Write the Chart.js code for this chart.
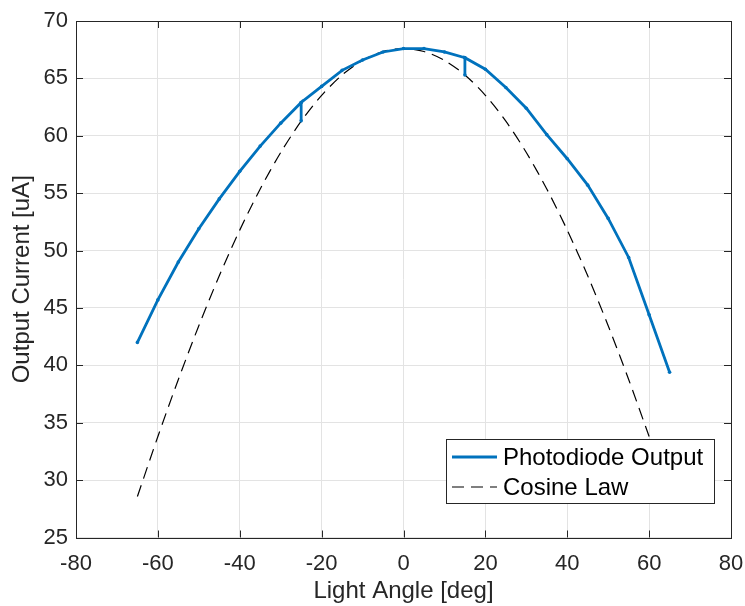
<!DOCTYPE html>
<html>
<head>
<meta charset="utf-8">
<script src="https://cdn.jsdelivr.net/npm/chart.js@4/dist/chart.umd.min.js"></script>
<style>
  html, body { margin: 0; padding: 0; background: #fff; }
  #wrap { width: 745px; height: 606px; }
</style>
</head>
<body>
<div id="wrap"><canvas id="chart" width="745" height="606"></canvas></div>
<script>
// measured photodiode output (repeated angles = repeated readings)
const angles = [-65, -60, -55, -50, -45, -40, -35, -30, -25, -25, -25, -20, -15, -10, -5, 0,
  5, 10, 15, 15, 15, 20, 25, 30, 35, 40, 45, 50, 55, 60, 65];
const photodiode = [42.0, 45.7, 49.0, 51.9, 54.5, 56.9, 59.1, 61.1, 62.9, 61.3, 62.9, 64.3, 65.7, 66.6, 67.3, 67.6,
  67.6, 67.3, 66.8, 65.3, 66.8, 65.8, 64.2, 62.4, 60.1, 58.0, 55.7, 52.8, 49.4, 44.4, 39.4];

// cosine law reference curve
const cosAngles = [-65, -60, -55, -50, -45, -40, -35, -30, -25, -20, -15, -10, -5, 0,
  5, 10, 15, 20, 25, 30, 35, 40, 45, 50, 55, 60];
const cosineLaw = [28.57, 33.80, 38.77, 43.45, 47.80, 51.78, 55.37, 58.54, 61.27, 63.52, 65.30, 66.57, 67.34, 67.60,
  67.34, 66.57, 65.30, 63.52, 61.27, 58.54, 55.37, 51.78, 47.80, 43.45, 38.77, 33.80];

const xTicks = [-80, -60, -40, -20, 0, 20, 40, 60, 80];
const yTicks = [25, 30, 35, 40, 45, 50, 55, 60, 65, 70];

const axisColor = "#262626";
const fontFamily = "'Liberation Sans', Arial, sans-serif";

// MATLAB style: box around the axes with inward ticks
const boxPlugin = {
  id: "box",
  afterDatasetsDraw(chart) {
    const { ctx, chartArea: a, scales } = chart;
    ctx.save();
    ctx.strokeStyle = axisColor;
    ctx.lineWidth = 1;
    const tl = 7;
    ctx.beginPath();
    for (const v of xTicks) {
      const px = Math.round(scales.x.getPixelForValue(v)) + 0.5;
      ctx.moveTo(px, a.bottom); ctx.lineTo(px, a.bottom - tl);
      ctx.moveTo(px, a.top); ctx.lineTo(px, a.top + tl);
    }
    for (const v of yTicks) {
      const py = Math.round(scales.y.getPixelForValue(v)) + 0.5;
      ctx.moveTo(a.left, py); ctx.lineTo(a.left + tl, py);
      ctx.moveTo(a.right, py); ctx.lineTo(a.right - tl, py);
    }
    ctx.stroke();
    ctx.strokeRect(Math.round(a.left) + 0.5, Math.round(a.top) + 0.5,
      Math.round(a.right - a.left), Math.round(a.bottom - a.top));
    ctx.restore();
  },
};

// legend box inside the lower right of the axes
const legendPlugin = {
  id: "boxLegend",
  afterDraw(chart) {
    const { ctx } = chart;
    const x0 = 446, y0 = 439, w = 268, h = 64;
    ctx.save();
    ctx.fillStyle = "#fff";
    ctx.fillRect(x0, y0, w, h);
    ctx.strokeStyle = axisColor;
    ctx.lineWidth = 1;
    ctx.strokeRect(x0 + 0.5, y0 + 0.5, w, h);
    ctx.font = "24px " + fontFamily;
    ctx.textBaseline = "middle";
    chart.data.datasets.forEach((ds, i) => {
      const cy = y0 + 18 + i * 30;
      ctx.strokeStyle = ds.borderColor;
      ctx.lineWidth = ds.borderWidth;
      ctx.setLineDash(ds.borderDash || []);
      ctx.beginPath();
      ctx.moveTo(x0 + 6, cy);
      ctx.lineTo(x0 + 51, cy);
      ctx.stroke();
      ctx.setLineDash([]);
      ctx.fillStyle = "#000";
      ctx.fillText(ds.label, x0 + 57, cy + 1);
    });
    ctx.restore();
  },
};

new Chart(document.getElementById("chart"), {
  type: "line",
  data: {
    datasets: [
      {
        label: "Photodiode Output",
        data: angles.map((a, i) => ({ x: a, y: photodiode[i] })),
        borderColor: "#0072BD",
        backgroundColor: "#0072BD",
        borderWidth: 2.8,
        pointRadius: 1.8,
        pointBorderWidth: 0,
        tension: 0,
      },
      {
        label: "Cosine Law",
        data: cosAngles.map((a, i) => ({ x: a, y: cosineLaw[i] })),
        borderColor: "#000000",
        borderWidth: 1.2,
        borderDash: [12, 7],
        pointRadius: 0,
        tension: 0.3,
      },
    ],
  },
  options: {
    responsive: false,
    animation: false,
    layout: { padding: { top: 21, right: 14, left: 8, bottom: 0 } },
    plugins: { legend: { display: false }, tooltip: { enabled: false } },
    scales: {
      x: {
        type: "linear",
        min: -80,
        max: 80,
        afterBuildTicks: (s) => { s.ticks = xTicks.map((v) => ({ value: v })); },
        afterFit: (s) => { s.height = 68.5; s.paddingLeft = 0; s.paddingRight = 0; },
        grid: { color: "#e3e3e3", drawTicks: false },
        border: { display: false },
        ticks: { color: axisColor, padding: 13, font: { family: fontFamily, size: 22 } },
        title: {
          display: true,
          text: "Light Angle [deg]",
          color: axisColor,
          padding: { top: 0, bottom: 0 },
          font: { family: fontFamily, size: 24 },
        },
      },
      y: {
        min: 25,
        max: 70,
        afterBuildTicks: (s) => { s.ticks = yTicks.map((v) => ({ value: v })); },
        afterFit: (s) => { s.width = 68; s.paddingTop = 0; s.paddingBottom = 0; },
        grid: { color: "#e3e3e3", drawTicks: false },
        border: { display: false },
        ticks: { color: axisColor, padding: 8, font: { family: fontFamily, size: 22 } },
        title: {
          display: true,
          text: "Output Current [uA]",
          color: axisColor,
          padding: { top: 0, bottom: 0 },
          font: { family: fontFamily, size: 24 },
        },
      },
    },
  },
  plugins: [boxPlugin, legendPlugin],
});
</script>
</body>
</html>
